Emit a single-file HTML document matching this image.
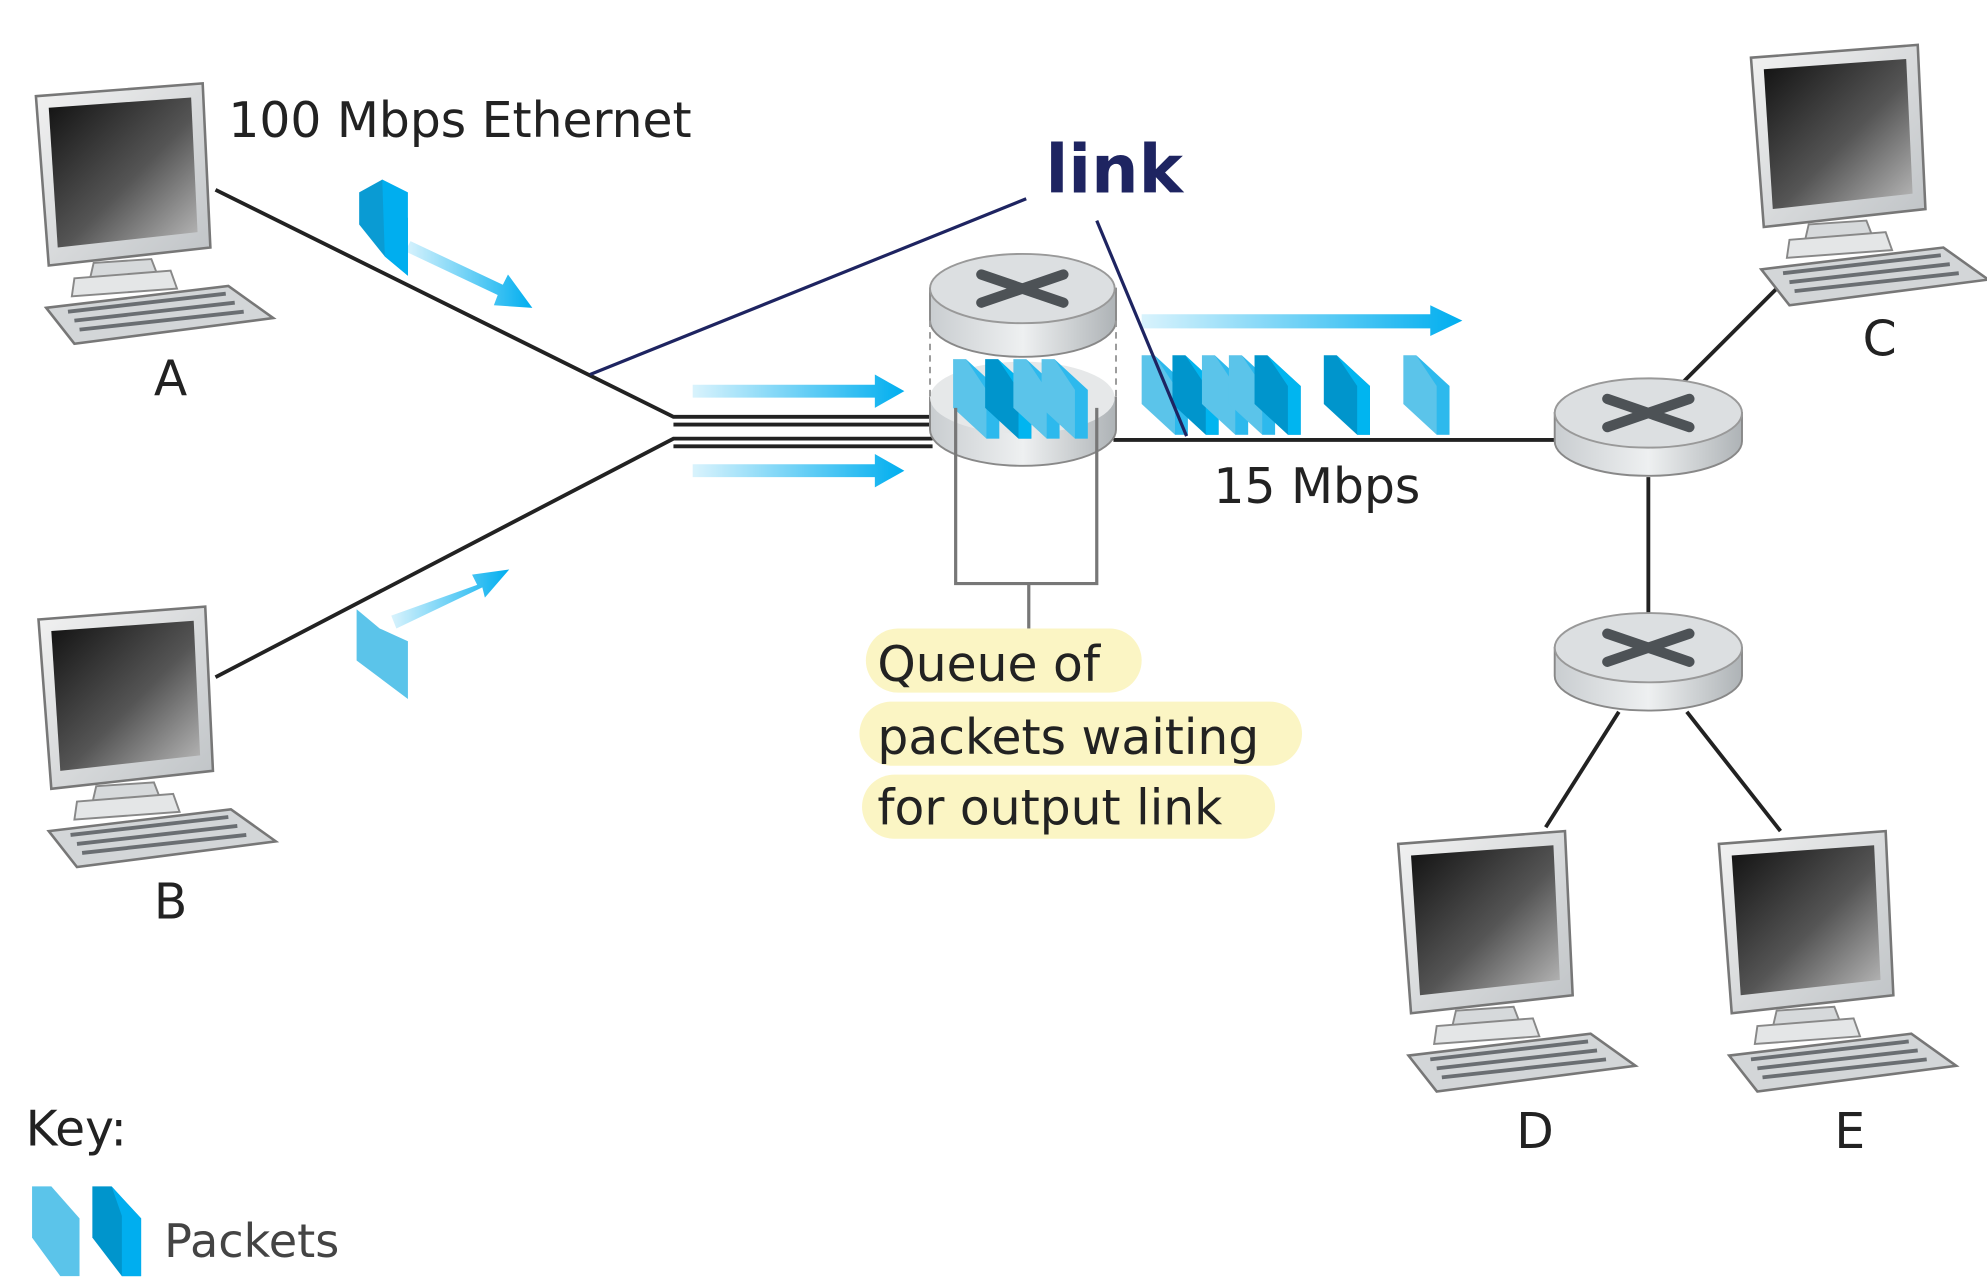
<!DOCTYPE html>
<html><head><meta charset="utf-8"><style>
html,body{margin:0;padding:0;background:#fff;}
svg{display:block;}
text{font-family:"DejaVu Sans","Liberation Sans",sans-serif;fill:#222;}
</style></head><body>
<svg width="1987" height="1280" viewBox="0 0 1549 998" preserveAspectRatio="none" xmlns="http://www.w3.org/2000/svg">
<defs>
<linearGradient id="scr" x1="0" y1="0" x2="1" y2="1"><stop offset="0" stop-color="#111"/><stop offset="0.55" stop-color="#555"/><stop offset="1" stop-color="#bbb"/></linearGradient>
<linearGradient id="frm" x1="0" y1="0" x2="1" y2="1"><stop offset="0" stop-color="#f2f2f2"/><stop offset="1" stop-color="#bfc3c6"/></linearGradient>
<linearGradient id="cyl" x1="0" y1="0" x2="1" y2="0"><stop offset="0" stop-color="#c9cdd0"/><stop offset="0.5" stop-color="#eef0f1"/><stop offset="1" stop-color="#aeb3b6"/></linearGradient>
<linearGradient id="arr" x1="0" y1="0" x2="1" y2="0"><stop offset="0" stop-color="#00aeef" stop-opacity="0.15"/><stop offset="1" stop-color="#00aeef"/></linearGradient>
<g id="pc">
<polygon points="0,10 130,0 136,128 10,142" fill="url(#frm)" stroke="#777" stroke-width="2"/>
<polygon points="10,19 121,11 126,116 17,128" fill="url(#scr)"/>
<polygon points="45,140 90,137 95,150 42,153" fill="#d6d9db" stroke="#888" stroke-width="1.5"/>
<polygon points="30,152 105,146 110,160 28,166" fill="#e4e6e7" stroke="#888" stroke-width="1.5"/>
<polygon points="8,175 150,158 185,183 30,203" fill="#d3d6d8" stroke="#777" stroke-width="2"/>
<g stroke="#6a6e72" stroke-width="3"><line x1="25" y1="178" x2="148" y2="164"/><line x1="30" y1="185" x2="155" y2="171"/><line x1="34" y1="192" x2="162" y2="178"/></g>
</g>
<g id="rt">
<path d="M-73,0 L-73,22 A73,27 0 0 0 73,22 L73,0 Z" fill="url(#cyl)" stroke="#888" stroke-width="1.5"/>
<ellipse cx="0" cy="0" rx="73" ry="27" fill="#dcdfe1" stroke="#999" stroke-width="1.5"/>
<g stroke="#4d5256" stroke-width="8" stroke-linecap="round"><line x1="-32" y1="-11" x2="32" y2="11"/><line x1="32" y1="-11" x2="-32" y2="11"/></g>
</g>
<g id="pk"><polygon points="0,0 10,0 36,24 36,62 26,62 0,38" fill="#5bc4ea"/><polygon points="10,0 36,24 36,62 26,62 26,24" fill="#00aeef" opacity="0.5"/></g>
<g id="pkd"><polygon points="0,0 10,0 36,24 36,62 26,62 0,38" fill="#0095cc"/><polygon points="10,0 36,24 36,62 26,62 26,24" fill="#00b5f0"/></g>
</defs>

<!-- links -->
<g stroke="#222" stroke-width="3" fill="none">
<polyline points="168,148 525,325 727,325"/>
<line x1="525" y1="331" x2="727" y2="331"/>
<polyline points="168,528 525,342 727,342"/>
<line x1="525" y1="348" x2="727" y2="348"/>
<line x1="868" y1="343" x2="1215" y2="343"/>
<line x1="1310" y1="300" x2="1385" y2="225"/>
<line x1="1285" y1="372" x2="1285" y2="480"/>
<line x1="1262" y1="555" x2="1205" y2="645"/>
<line x1="1315" y1="555" x2="1388" y2="648"/>
</g>

<!-- computers -->
<use href="#pc" x="28" y="65"/>
<use href="#pc" x="30" y="473"/>
<use href="#pc" x="1365" y="35"/>
<use href="#pc" x="1090" y="648"/>
<use href="#pc" x="1340" y="648"/>

<!-- routers -->
<use href="#rt" x="1285" y="322"/>
<use href="#rt" x="1285" y="505"/>

<!-- central router -->
<path d="M725,310 L725,335 A72,28 0 0 0 870,335 L870,310 Z" fill="url(#cyl)" stroke="#888" stroke-width="1.5"/>
<ellipse cx="797" cy="310" rx="72" ry="28" fill="#e6e8e9"/>
<path d="M725,225 L725,250 A72,28 0 0 0 870,250 L870,225 Z" fill="url(#cyl)" stroke="#888" stroke-width="1.5"/>
<ellipse cx="797" cy="225" rx="72" ry="27" fill="#dcdfe1" stroke="#999" stroke-width="1.5"/>
<g stroke="#4d5256" stroke-width="8" stroke-linecap="round"><line x1="765" y1="214" x2="829" y2="236"/><line x1="829" y1="214" x2="765" y2="236"/></g>
<g stroke="#999" stroke-width="1.5" stroke-dasharray="5,4"><line x1="725" y1="250" x2="725" y2="310"/><line x1="870" y1="250" x2="870" y2="310"/></g>
<use href="#pk" x="743" y="280"/><use href="#pkd" x="768" y="280"/><use href="#pk" x="790" y="280"/><use href="#pk" x="812" y="280"/>

<!-- bracket -->
<g stroke="#777" stroke-width="2.5" fill="none"><polyline points="745,318 745,455 855,455 855,318"/><line x1="802" y1="455" x2="802" y2="490"/></g>

<!-- queued packets on output link -->
<use href="#pk" x="890" y="277"/><use href="#pkd" x="914" y="277"/><use href="#pk" x="937" y="277"/><use href="#pk" x="958" y="277"/><use href="#pkd" x="978" y="277"/>
<use href="#pkd" x="1032" y="277"/><use href="#pk" x="1094" y="277"/>

<!-- arrows -->
<g fill="url(#arr)">
<polygon points="890,245 1115,245 1115,238 1140,250 1115,262 1115,256 890,256"/>
<polygon points="540,300 682,300 682,292 705,305 682,318 682,310 540,310"/>
<polygon points="540,362 682,362 682,354 705,367 682,380 682,372 540,372"/>
</g>
<polygon points="320,188 392,222 396,214 415,240 385,238 388,230 316,196" fill="url(#arr)"/>
<polygon points="305,480 372,456 368,448 397,444 378,466 376,458 309,490" fill="url(#arr)"/>
<g><polygon points="280,150 298,140 318,170 318,215 300,200 280,175" fill="#0a9bd3"/><polygon points="298,140 318,150 318,215 300,200" fill="#00aeef"/></g>
<g><polygon points="278,475 296,490 318,500 318,545 298,530 278,515" fill="#5bc4ea"/></g>

<!-- link annotation -->
<g stroke="#1e2461" stroke-width="2.5"><line x1="800" y1="155" x2="460" y2="292"/><line x1="855" y1="172" x2="925" y2="340"/></g>
<text x="815" y="150" style="font-family:'DejaVu Sans',sans-serif;font-weight:bold;fill:#1e2461" font-size="52">link</text>

<!-- labels -->
<text x="178" y="107" font-size="38">100 Mbps Ethernet</text>
<text x="120" y="308" font-size="38">A</text>
<text x="120" y="716" font-size="38">B</text>
<text x="1452" y="277" font-size="38">C</text>
<text x="1182" y="895" font-size="38">D</text>
<text x="1430" y="895" font-size="38">E</text>
<text x="946" y="392" font-size="38">15 Mbps</text>

<g fill="#fbf5c4">
<rect x="675" y="490" width="215" height="50" rx="25"/>
<rect x="670" y="547" width="345" height="50" rx="25"/>
<rect x="672" y="604" width="322" height="50" rx="25"/>
</g>
<text x="684" y="531" font-size="38">Queue of</text>
<text x="684" y="588" font-size="38">packets waiting</text>
<text x="684" y="643" font-size="38">for output link</text>

<text x="20" y="893" font-size="38">Key:</text>
<g><polygon points="25,925 40,925 62,950 62,995 47,995 25,965" fill="#5bc4ea"/><polygon points="72,925 87,925 110,950 110,995 95,995 72,965" fill="#0095cc"/><polygon points="87,925 110,950 110,995 95,995 95,948" fill="#00aeef"/></g>
<text x="128" y="980" font-size="36" style="fill:#444">Packets</text>
</svg>
</body></html>
